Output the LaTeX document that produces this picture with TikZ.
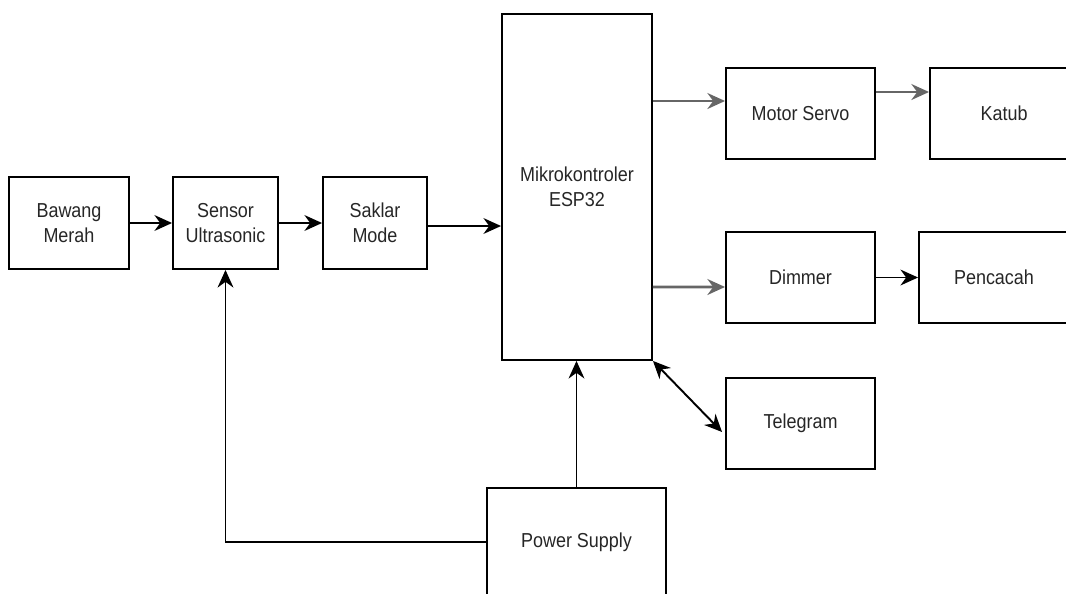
\documentclass[tikz,border=0pt]{standalone}
\usepackage{fontspec}
\setmainfont{Liberation Sans}[FakeStretch=0.89]
\usetikzlibrary{arrows.meta}

\begin{document}
\begin{tikzpicture}[x=0.02cm, y=-0.02cm,
    blok/.style={draw, line width=1.1pt, align=center, font=\fontsize{11.5}{14}\selectfont, text=black!85},
    panah/.style={line width=1.1pt, -{Stealth[length=10pt, width=9pt]}},
    panahabu/.style={panah, draw=black!60, line width=1.6pt}]
    % Ukuran gambar
    \useasboundingbox (0,0) rectangle (1066,593);

    % Blok masukan
    \node[blok, minimum width=2.4cm, minimum height=1.84cm] (bawang) at (69,223) {Bawang\\Merah};
    \node[blok, minimum width=2.1cm, minimum height=1.84cm] (sensor) at (225.5,223) {Sensor\\Ultrasonic};
    \node[blok, minimum width=2.08cm, minimum height=1.84cm] (saklar) at (375,223) {Saklar\\Mode};

    % Mikrokontroler
    \node[blok, minimum width=3cm, minimum height=6.92cm] (mikro) at (577,187) {Mikrokontroler\\ESP32};

    % Blok keluaran
    \node[blok, minimum width=2.98cm, minimum height=1.82cm] (servo) at (800.5,113.5) {Motor Servo};
    \node[blok, minimum width=2.96cm, minimum height=1.82cm] (katub) at (1004,113.5) {Katub};
    \node[blok, minimum width=2.98cm, minimum height=1.82cm] (dimmer) at (800.5,277.5) {Dimmer};
    \node[blok, minimum width=3cm, minimum height=1.82cm] (pencacah) at (994,277.5) {Pencacah};
    \node[blok, minimum width=2.98cm, minimum height=1.82cm] (telegram) at (800.5,423.5) {Telegram};
    \node[blok, minimum width=3.58cm, minimum height=2.16cm] (power) at (576.5,542) {Power Supply};

    % Panah
    \draw[panah] (bawang) -- (sensor);
    \draw[panah] (sensor) -- (saklar);
    \draw[panah] ([yshift=-0.06cm]saklar.east) -- ([yshift=-0.06cm]mikro.west |- saklar.east);
    \draw[panahabu] (mikro.east |- {0,101}) -- (servo.west |- {0,101});
    \draw[panahabu] (servo.east |- {0,92}) -- (katub.west |- {0,92});
    \draw[panahabu] (mikro.east |- dimmer.west) ++(0,9.5) -- ([yshift=-0.19cm]dimmer.west);
    \draw[panah] (dimmer) -- (pencacah);
    \draw[panah, {Stealth[length=10pt, width=9pt]}-{Stealth[length=10pt, width=9pt]}] (mikro.south east) -- ([xshift=-0.06cm, yshift=-0.17cm]telegram.west);
    \draw[panah] (power.north) -- (power.north |- mikro.south);
    \draw[panah] (power.west) -- (power.west -| sensor.south) -- (sensor.south);
\end{tikzpicture}
\end{document}
